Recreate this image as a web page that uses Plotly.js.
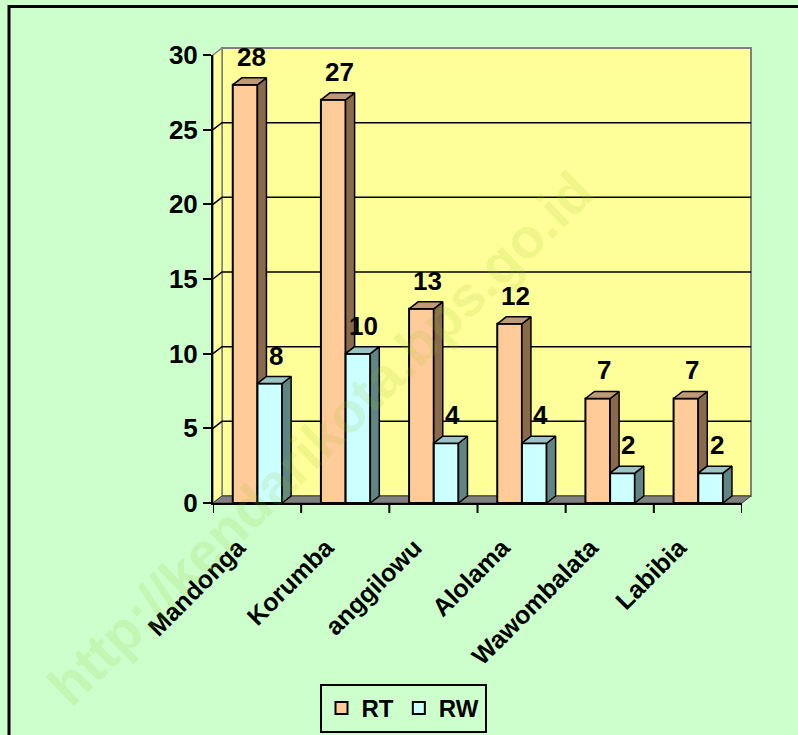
<!DOCTYPE html>
<html>
<head>
<meta charset="utf-8">
<script src="https://cdn.plot.ly/plotly-3.0.1.min.js"></script>
<style>
  html, body { margin: 0; padding: 0; background: #CCFFCC; }
  #chart { width: 798px; height: 735px; }
</style>
</head>
<body>
<div id="chart"></div>
<script>
// ---- data ----
const categories = ['Mandonga', 'Korumba', 'anggilowu', 'Alolama', 'Wawombalata', 'Labibia'];
const rtValues = [28, 27, 13, 12, 7, 7];
const rwValues = [8, 10, 4, 4, 2, 2];
const seriesNames = ['RT', 'RW'];
const yTickValues = [0, 5, 10, 15, 20, 25, 30];
const gridValues = [5, 10, 15, 20, 25];
const watermark = 'http://kendarikota.bps.go.id';

// ---- styling / geometry ----
const W = 798, H = 735;
const M = {l: 213, r: 56, t: 55, b: 232};
const plotW = W - M.l - M.r, plotH = H - M.t - M.b;
const xRange = [-0.5, categories.length - 0.5];
const yRange = [0, 30];
const DXPX = 9, DYPX = 7;                       // 3D depth in pixels
const dxp = DXPX / plotW, dyp = DYPX / plotH;   // in paper units
const dxD = DXPX * (xRange[1] - xRange[0]) / plotW;  // in x data units
const dyD = DYPX * (yRange[1] - yRange[0]) / plotH;  // in y data units
const barW = 0.28;
const offRT = -0.276, offRW = offRT + barW;
const FONT = 'Liberation Sans, Arial, sans-serif';
const colors = {
  rtFront: '#FFCC99', rtTop: '#C09A78', rtSide: '#8A6A4C',
  rwFront: '#CCFFFF', rwTop: '#9CC4C4', rwSide: '#5F8585',
  wall: '#FFFF99', bg: '#CCFFCC', floor: '#808080'
};
const xIdx = categories.map((_, i) => i);

function barTrace(name, vals, off, color) {
  return {
    type: 'bar', name: name, x: xIdx, y: vals, offset: off, width: barW,
    marker: {color: color, line: {color: '#000', width: 2}},
    hoverinfo: 'skip'
  };
}
function polyTrace(xs, ys, fill) {
  return {
    type: 'scatter', mode: 'lines', x: xs, y: ys, fill: 'toself', fillcolor: fill,
    line: {color: '#000', width: 1.5}, showlegend: false, hoverinfo: 'skip'
  };
}
// side faces (clipped where hidden by the bar in front) and top faces
function faces(vals, off, hideBelow) {
  const sx = [], sy = [], tx = [], ty = [];
  vals.forEach((v, i) => {
    const x0 = i + off, x1 = x0 + barW;
    const lo = hideBelow ? Math.min(hideBelow[i], v) : 0;
    sx.push(x1, x1 + dxD, x1 + dxD, x1, x1, null);
    sy.push(lo, lo + dyD, v + dyD, v, lo, null);
    tx.push(x0, x0 + dxD, x1 + dxD, x1, x0, null);
    ty.push(v, v + dyD, v + dyD, v, v, null);
  });
  return {sx, sy, tx, ty};
}
const fRT = faces(rtValues, offRT, rwValues);
const fRW = faces(rwValues, offRW, null);

const traces = [
  barTrace(seriesNames[0], rtValues, offRT, colors.rtFront),
  barTrace(seriesNames[1], rwValues, offRW, colors.rwFront),
  polyTrace(fRT.sx, fRT.sy, colors.rtSide),
  polyTrace(fRT.tx, fRT.ty, colors.rtTop),
  polyTrace(fRW.sx, fRW.sy, colors.rwSide),
  polyTrace(fRW.tx, fRW.ty, colors.rwTop)
];

// ---- shapes: walls, floor, gridlines, boundary ticks, frame ----
const shapes = [
  {type: 'rect', xref: 'paper', yref: 'paper', x0: dxp, x1: 1 + dxp, y0: dyp, y1: 1 + dyp,
   fillcolor: colors.wall, line: {color: '#808080', width: 2}, layer: 'below'},
  {type: 'path', xref: 'paper', yref: 'paper',
   path: `M 0,0 L 0,1 L ${dxp},${1 + dyp} L ${dxp},${dyp} Z`,
   fillcolor: colors.wall, line: {color: '#808080', width: 1.5}, layer: 'below'},
  {type: 'path', xref: 'paper', yref: 'paper',
   path: `M 0,0 L ${dxp},${dyp} L ${1 + dxp},${dyp} L 1,0 Z`,
   fillcolor: colors.floor, line: {color: '#404040', width: 1}, layer: 'below'}
];
gridValues.forEach(v => {
  shapes.push({type: 'path', xref: 'paper', yref: 'y',
    path: `M 0,${v} L ${dxp},${v + dyD} L ${1 + dxp},${v + dyD}`,
    line: {color: '#000', width: 1.5}, layer: 'below'});
});
for (let b = 0; b <= categories.length; b++) {
  const xb = b - 0.5;
  shapes.push({type: 'line', xref: 'x', x0: xb, x1: xb, yref: 'paper', ysizemode: 'pixel',
    yanchor: 0, y0: 0, y1: -10, line: {color: '#000', width: 2}});
}
shapes.push({type: 'rect', xref: 'paper', yref: 'paper',
  x0: (9 - M.l) / plotW, x1: (W + 20 - M.l) / plotW,
  y0: -(H + 20 - (M.t + plotH)) / plotH, y1: (M.t + plotH - 6.5) / plotH,
  line: {color: '#000', width: 3}, fillcolor: 'rgba(0,0,0,0)'});

// ---- annotations: watermark + value labels ----
const annotations = [{
  text: watermark, xref: 'paper', yref: 'paper',
  x: (320 - M.l) / plotW, y: (M.t + plotH - 438) / plotH,
  xanchor: 'center', yanchor: 'middle',
  textangle: -44.3, showarrow: false,
  font: {family: FONT, size: 56, weight: 'bold', color: 'rgba(150,190,40,0.15)'}
}];
[[rtValues, offRT], [rwValues, offRW]].forEach(([vals, off]) => {
  vals.forEach((v, i) => {
    annotations.push({
      text: String(v), x: i + off + barW / 2, y: v, xref: 'x', yref: 'y',
      xshift: 6, yshift: 11, yanchor: 'bottom', showarrow: false,
      font: {family: FONT, size: 26, weight: 'bold', color: '#000'}
    });
  });
});

const layout = {
  width: W, height: H, margin: M,
  paper_bgcolor: colors.bg, plot_bgcolor: 'rgba(0,0,0,0)',
  barmode: 'overlay',
  showlegend: true,
  legend: {
    orientation: 'h', xref: 'container', yref: 'container',
    x: 403 / W, xanchor: 'center',
    y: 1 - 684 / H, yanchor: 'top',
    bgcolor: 'rgba(0,0,0,0)', bordercolor: '#000', borderwidth: 2,
    font: {family: FONT, size: 24, weight: 'bold', color: '#000'},
    itemwidth: 30, traceorder: 'normal'
  },
  xaxis: {
    range: xRange, tickvals: xIdx, ticktext: categories, tickangle: -45,
    ticks: 'outside', ticklen: 18, tickcolor: 'rgba(0,0,0,0)', ticklabelshift: -19,
    showline: true, linecolor: '#000', linewidth: 2, showgrid: false, zeroline: false,
    automargin: false,
    tickfont: {family: FONT, size: 25, weight: 'bold', color: '#000'}, fixedrange: true
  },
  yaxis: {
    range: yRange, tickvals: yTickValues, ticks: 'outside', ticklen: 8, tickwidth: 2,
    tickcolor: '#000', showline: true, linecolor: '#000', linewidth: 2,
    showgrid: false, zeroline: false, automargin: false,
    tickfont: {family: FONT, size: 26, weight: 'bold', color: '#000'}, fixedrange: true
  },
  shapes: shapes,
  annotations: annotations
};

Plotly.newPlot('chart', traces, layout, {displayModeBar: false, staticPlot: true});
</script>
</body>
</html>
